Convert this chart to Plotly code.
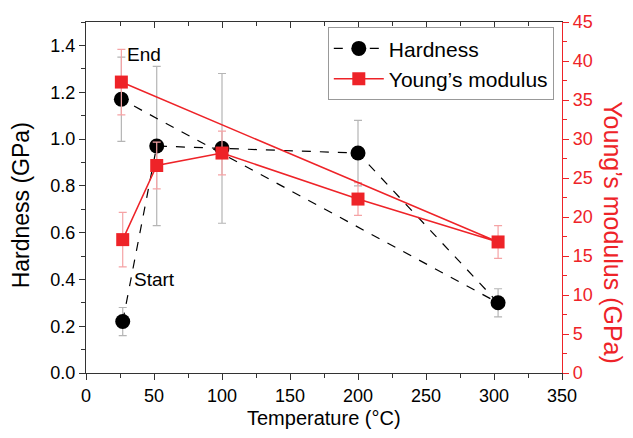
import plotly.graph_objects as go

temperature = [27, 52, 100, 200, 303, 26]
hardness = [0.22, 0.97, 0.96, 0.94, 0.30, 1.17]
hardness_err = [0.06, 0.34, 0.32, 0.14, 0.06, 0.18]
modulus = [17.1, 26.6, 28.2, 22.3, 16.8, 37.3]
modulus_err = [3.5, 3.0, 2.8, 2.1, 2.1, 4.2]

RED = "#ee2328"
FONT = "Liberation Sans, Arial, sans-serif"

fig = go.Figure()
fig.add_trace(go.Scatter(
    x=temperature, y=hardness, name="Hardness", mode="lines+markers",
    line=dict(color="black", width=1.2, dash="dash"),
    marker=dict(symbol="circle", size=15, color="black"),
    error_y=dict(type="data", array=hardness_err, color="#b5b5b5", thickness=1.2, width=4),
    yaxis="y"))
fig.add_trace(go.Scatter(
    x=temperature, y=modulus, name="Young’s modulus", mode="lines+markers",
    line=dict(color=RED, width=1.5),
    marker=dict(symbol="square", size=13, color=RED),
    error_y=dict(type="data", array=modulus_err, color="#f5a3a5", thickness=1.2, width=4),
    yaxis="y2"))
# invisible trace for top mirror axis
fig.add_trace(go.Scatter(x=[0, 350], y=[0, 0], xaxis="x2", yaxis="y", mode="markers",
                         marker=dict(opacity=0), showlegend=False, hoverinfo="skip"))

fig.add_annotation(x=29, y=1.36, text="End", showarrow=False, xanchor="left",
                   font=dict(size=19, color="black", family=FONT))
fig.add_annotation(x=34, y=0.40, text="Start", showarrow=False, xanchor="left",
                   font=dict(size=19, color="black", family=FONT))

# axis titles
fig.add_annotation(xref="paper", yref="paper", x=-0.137, y=0.477, text="Hardness (GPa)",
                   textangle=-90, showarrow=False, xanchor="center", yanchor="middle",
                   font=dict(size=23, color="black", family=FONT))
fig.add_annotation(xref="paper", yref="paper", x=1.108, y=0.40, text="Young’s modulus (GPa)",
                   textangle=90, showarrow=False, xanchor="center", yanchor="middle",
                   font=dict(size=25, color=RED, family=FONT))
fig.add_annotation(xref="paper", yref="paper", x=0.5, y=-0.128, text="Temperature (°C)",
                   showarrow=False, xanchor="center", yanchor="middle",
                   font=dict(size=20, color="black", family=FONT))

fig.update_layout(
    width=625, height=430,
    margin=dict(l=78, r=71, t=14, b=65, autoexpand=False),
    plot_bgcolor="white", paper_bgcolor="white",
    font=dict(family=FONT, size=18, color="black"),
    showlegend=True,
    legend=dict(x=0.508, y=0.985, xanchor="left", yanchor="top",
                bordercolor="#999999", borderwidth=1, bgcolor="white",
                font=dict(size=21, family=FONT), tracegroupgap=0, itemwidth=50),
    xaxis=dict(range=[0, 350], dtick=50, tick0=0, showgrid=False, zeroline=False,
               automargin=False,
               showline=True, linecolor="#333333", linewidth=1.2,
               ticks="outside", ticklen=6, tickcolor="#333333",
               minor=dict(dtick=25, ticks="outside", ticklen=4, tickcolor="#333333")),
    xaxis2=dict(range=[0, 350], overlaying="x", side="top", dtick=50, showgrid=False,
                automargin=False,
                zeroline=False, showline=True, linecolor="#333333", linewidth=1.2,
                ticks="inside", ticklen=6, tickcolor="#333333", showticklabels=False,
                minor=dict(dtick=25, ticks="inside", ticklen=4, tickcolor="#333333")),
    yaxis=dict(range=[0, 1.5], dtick=0.2, tick0=0, tickformat=".1f", showgrid=False,
               automargin=False,
               zeroline=False, showline=True, linecolor="#333333", linewidth=1.2,
               ticks="outside", ticklen=6, tickcolor="#333333",
               minor=dict(dtick=0.1, ticks="outside", ticklen=4, tickcolor="#333333")),
    yaxis2=dict(range=[0, 45], dtick=5, tick0=0, overlaying="y", side="right",
                automargin=False,
                showgrid=False, zeroline=False, showline=True, linecolor=RED, linewidth=1.2,
                ticks="outside", ticklen=6, tickcolor=RED,
                tickfont=dict(color=RED, size=18),
                minor=dict(dtick=2.5, ticks="outside", ticklen=4, tickcolor=RED)),
)

fig.write_html("out.html")
